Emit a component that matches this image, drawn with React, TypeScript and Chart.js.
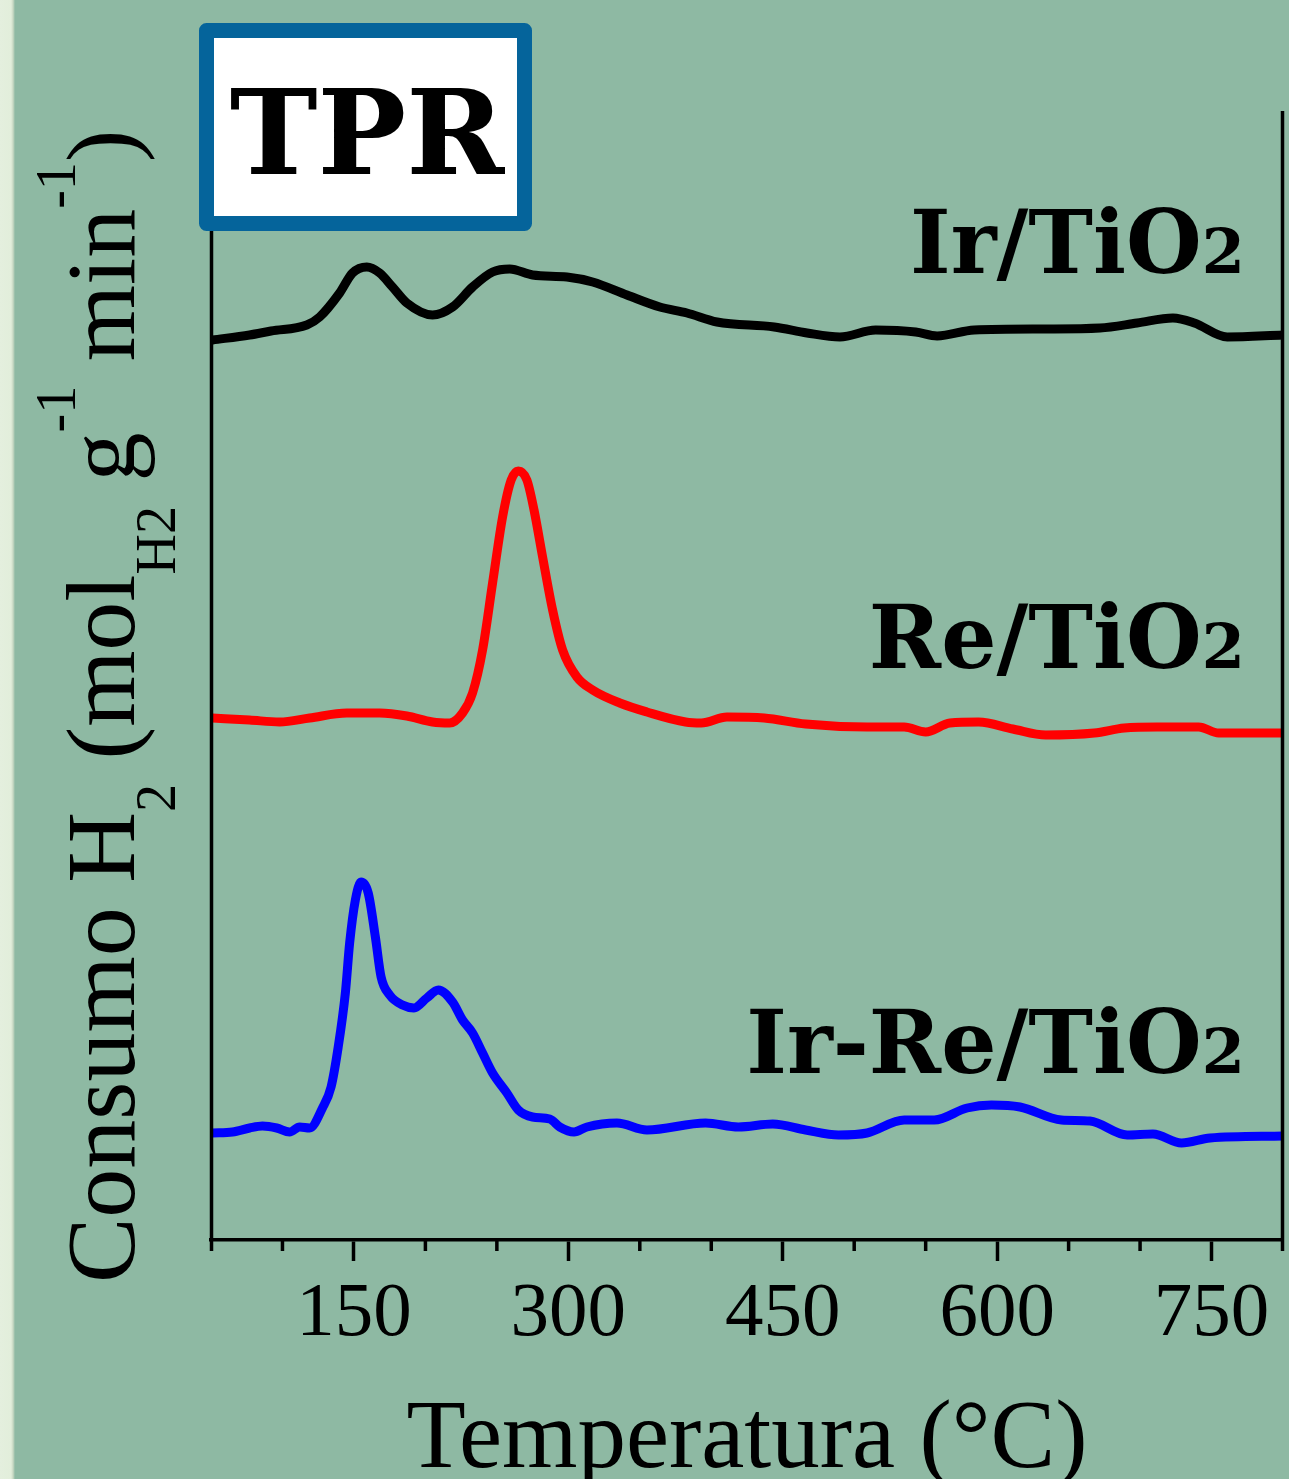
import React, { useEffect, useRef } from 'react';
import { Chart, registerables } from 'chart.js';

Chart.register(...registerables);

// ---------- data ----------
const TEMP_IR = [51, 77, 92, 117, 126, 140, 149, 159, 168, 177, 187, 205, 219, 233, 247, 259, 275, 299, 317, 341, 364, 383, 404, 444, 467, 490, 515, 543, 558, 584, 634, 672, 698, 723, 738, 761, 800];
const VAL_IR = [90.0, 90.5, 90.9, 91.5, 92.3, 94.7, 96.7, 97.3, 96.7, 95.3, 93.7, 92.5, 93.3, 95.3, 96.8, 97.1, 96.5, 96.3, 95.8, 94.5, 93.3, 92.7, 91.8, 91.3, 90.7, 90.3, 91.0, 90.8, 90.4, 91.0, 91.1, 91.2, 91.7, 92.2, 91.7, 90.3, 90.5];

const TEMP_RE = [51, 77, 98, 119, 145, 168, 187, 205, 217, 226, 233, 240, 247, 254, 260, 265, 271, 276, 282, 289, 296, 306, 317, 336, 355, 382, 393, 411, 437, 466, 509, 535, 550, 567, 587, 611, 634, 668, 689, 712, 741, 755, 800];
const VAL_RE = [52.2, 52.0, 51.8, 52.2, 52.7, 52.7, 52.4, 51.8, 51.7, 52.7, 54.7, 59.0, 65.7, 72.3, 76.0, 76.9, 76.0, 73.0, 68.3, 63.0, 59.0, 56.3, 55.0, 53.7, 52.8, 51.8, 51.7, 52.3, 52.2, 51.6, 51.3, 51.3, 50.8, 51.7, 51.8, 51.1, 50.5, 50.7, 51.2, 51.3, 51.3, 50.7, 50.7];

const TEMP_IRRE = [51, 65, 77, 86, 96, 105, 112, 119, 128, 134, 139, 144, 147, 151, 155, 160, 165, 169, 175, 184, 192, 201, 209, 219, 226, 233, 240, 247, 257, 265, 275, 287, 294, 304, 313, 334, 355, 396, 419, 443, 466, 489, 509, 535, 556, 579, 596, 616, 645, 665, 691, 709, 729, 749, 800];
const VAL_IRRE = [10.7, 10.8, 11.2, 11.4, 11.2, 10.8, 11.3, 11.2, 13.2, 15.3, 19.3, 24.7, 29.7, 34.0, 35.8, 34.7, 30.3, 26.3, 24.5, 23.5, 23.2, 24.2, 25.0, 23.8, 22.0, 20.7, 18.7, 16.7, 14.7, 13.0, 12.3, 12.1, 11.3, 10.8, 11.3, 11.7, 11.0, 11.7, 11.3, 11.6, 11.0, 10.5, 10.7, 12.0, 12.0, 13.2, 13.5, 13.3, 12.0, 11.9, 10.5, 10.6, 9.7, 10.2, 10.4];

const SERIES_NAMES = ['Ir/TiO2', 'Re/TiO2', 'Ir-Re/TiO2'];
const SERIES_COLORS = ['#000000', '#ff0000', '#0000ff'];

const X_MIN = 50;
const X_MAX = 800;
const MAJOR_TICKS = [150, 300, 450, 600, 750];
const MINOR_TICKS = [50, 100, 200, 250, 350, 400, 500, 550, 650, 700, 800];
const Y_MIN = 0;
const Y_MAX = 112.9;

const X_TITLE = 'Temperatura (°C)';
const BOX_TITLE = 'TPR';

const zip = (xs: number[], ys: number[]) => xs.map((x, i) => ({ x, y: ys[i] }));

// ---------- overlay drawing ----------
const SERIF = '"Liberation Serif", "Times New Roman", serif';
const BOLD_SERIF = '"DejaVu Serif", serif';

function drawYTitle(ctx: CanvasRenderingContext2D) {
  const main = `98px ${SERIF}`;
  const small = `56px ${SERIF}`;
  const parts = [
    { t: 'Consumo H', f: main, dy: 0 },
    { t: '2', f: small, dy: 41 },
    { t: ' (mol', f: main, dy: 0 },
    { t: 'H2', f: small, dy: 41 },
    { t: ' g', f: main, dy: 0 },
    { t: '-1', f: small, dy: -59 },
    { t: ' min', f: main, dy: 0 },
    { t: '-1', f: small, dy: -59 },
    { t: ')', f: main, dy: 0 },
  ];
  ctx.save();
  ctx.translate(134, 1283);
  ctx.rotate(-Math.PI / 2);
  ctx.fillStyle = '#000';
  ctx.textBaseline = 'alphabetic';
  ctx.textAlign = 'left';
  let x = 0;
  for (const p of parts) {
    ctx.font = p.f;
    ctx.fillText(p.t, x, p.dy);
    x += ctx.measureText(p.t).width;
  }
  ctx.restore();
}

function drawSeriesLabel(ctx: CanvasRenderingContext2D, name: string, rightX: number, baseline: number) {
  const head = name.slice(0, -1);
  const tail = name.slice(-1);
  const bigFont = `bold 87px ${BOLD_SERIF}`;
  const smallFont = `bold 62px ${BOLD_SERIF}`;
  ctx.save();
  ctx.fillStyle = '#000';
  ctx.textBaseline = 'alphabetic';
  ctx.textAlign = 'left';
  ctx.font = bigFont;
  const w1 = ctx.measureText(head).width;
  ctx.font = smallFont;
  const w2 = ctx.measureText(tail).width;
  const x0 = rightX - w1 - w2;
  ctx.font = bigFont;
  ctx.fillText(head, x0, baseline);
  ctx.font = smallFont;
  ctx.fillText(tail, x0 + w1, baseline);
  ctx.restore();
}

const overlayPlugin = {
  id: 'overlay',
  afterDatasetsDraw(chart: any) {
    const ctx: CanvasRenderingContext2D = chart.ctx;
    const area = chart.chartArea;
    const xs = chart.scales.x;
    ctx.save();
    // left & right axis lines
    ctx.strokeStyle = '#000';
    ctx.lineWidth = 3.5;
    ctx.beginPath();
    ctx.moveTo(area.left + 0.5, area.top);
    ctx.lineTo(area.left + 0.5, area.bottom);
    ctx.moveTo(area.right - 0.5, area.top);
    ctx.lineTo(area.right - 0.5, area.bottom);
    ctx.stroke();
    // minor ticks
    ctx.beginPath();
    for (const v of MINOR_TICKS) {
      let px = xs.getPixelForValue(v);
      if (v === X_MIN) px += 0.5;
      if (v === X_MAX) px -= 0.5;
      ctx.moveTo(px, area.bottom);
      ctx.lineTo(px, area.bottom + 11);
    }
    ctx.stroke();
    ctx.restore();

    // series labels
    drawSeriesLabel(ctx, SERIES_NAMES[0], 1245, 273);
    drawSeriesLabel(ctx, SERIES_NAMES[1], 1245, 668);
    drawSeriesLabel(ctx, SERIES_NAMES[2], 1245, 1073);

    // TPR box
    ctx.save();
    ctx.fillStyle = '#ffffff';
    ctx.fillRect(206, 30, 319, 194);
    ctx.strokeStyle = '#05649b';
    ctx.lineWidth = 15;
    ctx.lineJoin = 'round';
    ctx.strokeRect(206.5, 30.5, 318, 193);
    ctx.fillStyle = '#000';
    ctx.font = `bold 118px ${BOLD_SERIF}`;
    ctx.textAlign = 'center';
    ctx.textBaseline = 'alphabetic';
    ctx.fillText(BOX_TITLE, 367, 174);
    ctx.restore();

    drawYTitle(ctx);
  },
};

export default function App() {
  const canvasRef = useRef<HTMLCanvasElement | null>(null);

  useEffect(() => {
    const canvas = canvasRef.current;
    if (!canvas) return;
    const mk = (label: string, xs: number[], ys: number[], color: string) => ({
      label,
      data: zip(xs, ys),
      borderColor: color,
      backgroundColor: color,
      borderWidth: 9,
      pointRadius: 0,
      cubicInterpolationMode: 'monotone' as const,
      borderJoinStyle: 'round' as const,
      borderCapStyle: 'round' as const,
      fill: false,
    });
    const chart = new Chart(canvas, {
      type: 'line',
      data: {
        datasets: [
          mk(SERIES_NAMES[0], TEMP_IR, VAL_IR, SERIES_COLORS[0]),
          mk(SERIES_NAMES[1], TEMP_RE, VAL_RE, SERIES_COLORS[1]),
          mk(SERIES_NAMES[2], TEMP_IRRE, VAL_IRRE, SERIES_COLORS[2]),
        ],
      },
      options: {
        animation: false,
        responsive: false,
        maintainAspectRatio: false,
        devicePixelRatio: 1,
        layout: { padding: { left: 211, right: 6, top: 111, bottom: 0 } },
        plugins: {
          legend: { display: false },
          tooltip: { enabled: false },
        },
        scales: {
          x: {
            type: 'linear',
            position: 'bottom',
            min: X_MIN,
            max: X_MAX,
            afterBuildTicks: (axis: any) => {
              axis.ticks = MAJOR_TICKS.map((v) => ({ value: v }));
            },
            afterFit: (axis: any) => {
              axis.height = 239;
            },
            ticks: {
              color: '#000',
              font: { family: 'Liberation Serif', size: 77 },
              padding: 8,
              maxRotation: 0,
              autoSkip: false,
            },
            grid: {
              display: true,
              drawOnChartArea: false,
              drawTicks: true,
              tickLength: 21,
              tickWidth: 3.5,
              tickColor: '#000',
            },
            border: { display: true, color: '#000', width: 3.5 },
            title: {
              display: true,
              text: X_TITLE,
              color: '#000',
              font: { family: 'Liberation Serif', size: 97, lineHeight: 0.78 },
              padding: { top: 0, bottom: 0 },
            },
          },
          y: {
            type: 'linear',
            display: false,
            min: Y_MIN,
            max: Y_MAX,
          },
        },
      },
      plugins: [overlayPlugin],
    });
    return () => chart.destroy();
  }, []);

  return (
    <div style={{ position: 'absolute', left: 0, top: 0, width: 1289, height: 1479, background: '#8eb9a3', overflow: 'hidden' }}>
      <div style={{ position: 'absolute', left: 0, top: 0, width: 15, height: 1479, background: 'linear-gradient(to right, #e4efde 0px, #e2eedb 11px, #c9d9c4 13px, #8eb9a3 15px)' }} />
      <canvas ref={canvasRef} width={1289} height={1479} style={{ position: 'absolute', left: 0, top: 0, display: 'block' }} />
    </div>
  );
}
